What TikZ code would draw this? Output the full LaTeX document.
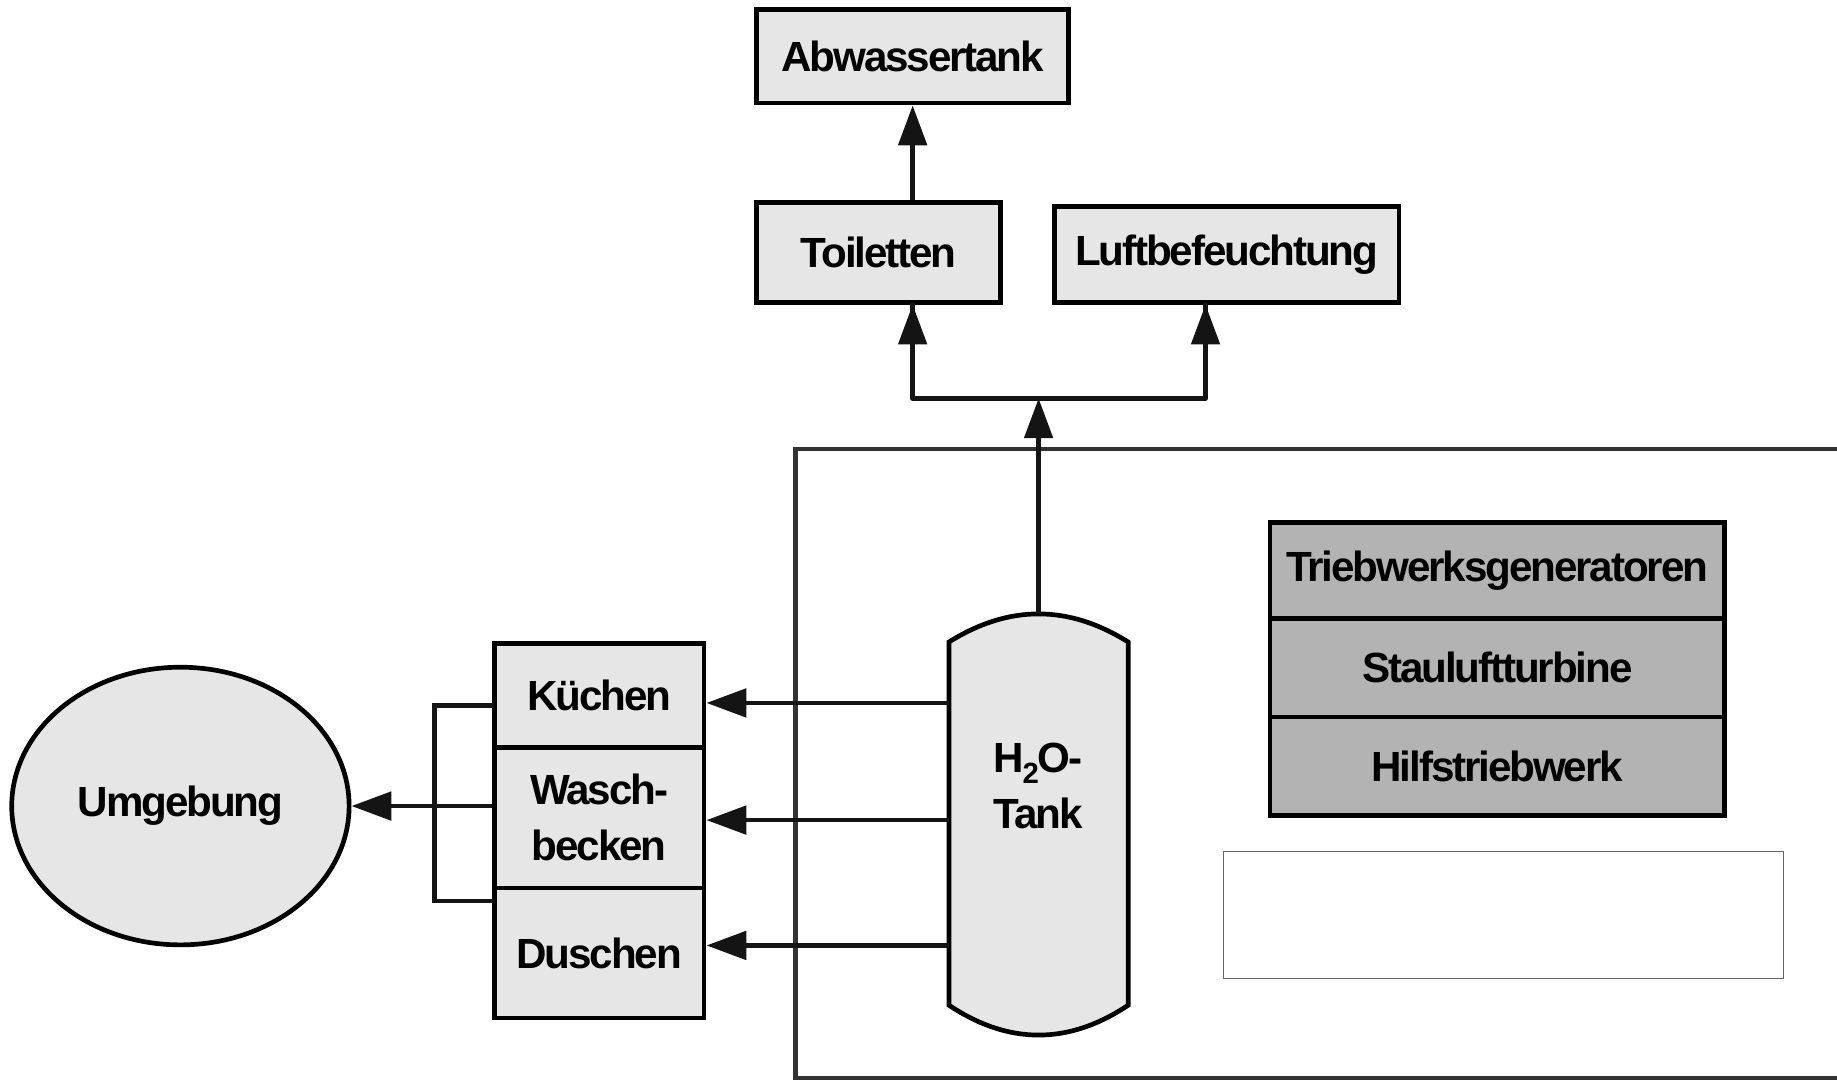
\documentclass[tikz,border=0pt]{standalone}
\usepackage{fontspec}
\setmainfont{Liberation Sans}[LetterSpace=-5]
\usetikzlibrary{arrows.meta,shapes.geometric}
\definecolor{boxgray}{HTML}{E6E6E6}
\definecolor{stackgray}{HTML}{B3B3B3}
\definecolor{framegray}{HTML}{333333}
\definecolor{thingray}{HTML}{666666}
\newcommand{\lblfont}{\fontsize{36}{48}\selectfont\bfseries}
\begin{document}
\begin{tikzpicture}[x=1pt,y=-1pt,
  box/.style={draw=black, line width=4pt, fill=boxgray, rectangle, inner sep=0pt,
    font=\lblfont, align=center},
  stackbox/.style={box, fill=stackgray, minimum width=388pt},
  conn/.style={line width=4pt, draw=black!92},
  arr/.style={conn, -{Triangle[length=34pt,width=24pt]}},
  bracket/.style={line width=4pt, draw=black!92}
]
\useasboundingbox (0,0) rectangle (1568,924);

% large frame
\draw[framegray, line width=3.5pt] (1580,383) -- (679,383) -- (679,920) -- (1580,920);

% top boxes
\node[box, minimum width=266pt, minimum height=80pt] (abw) at (779,48) {Abwassertank};
\node[box, minimum width=208pt, minimum height=85pt] (toil) at (750,215.5) {Toiletten};
\node[box, minimum width=294pt, minimum height=82pt] (luft) at (1047,217) {Luftbefeuchtung};

% power stack
\node[stackbox, minimum height=82pt] (trieb) at (1278,487) {Triebwerksgeneratoren};
\node[stackbox, minimum height=84pt] (stau) at (1278,570) {Stauluftturbine};
\node[stackbox, minimum height=84pt] (hilf) at (1278,654) {Hilfstriebwerk};

% empty rectangle
\node[draw=thingray, line width=1pt, fill=white, minimum width=478pt, minimum height=108pt, inner sep=0pt] (empty) at (1283,781) {};

% consumer boxes
\node[box, minimum width=179pt, minimum height=89pt] (kue) at (511.5,593.5) {K\"uchen};
\node[box, minimum width=179pt, minimum height=120pt] (wasch) at (511.5,698) {Wasch-\\becken};
\node[box, minimum width=179pt, minimum height=111pt] (dusch) at (511.5,813.5) {Duschen};

% environment
\node[ellipse, draw=black, line width=4pt, fill=boxgray, minimum width=288pt, minimum height=237pt, inner sep=0pt, font=\lblfont] (umg) at (154,688) {Umgebung};

% H2O tank
\node[minimum width=153pt, minimum height=360pt, inner sep=0pt] (tank) at (886.5,704) {};
\draw[line width=4pt, fill=boxgray] (810,548) .. controls (861,516) and (912,516) .. (963,548)
  -- (963,858) .. controls (912,892) and (861,892) .. (810,858) -- cycle;
\node[font=\lblfont, align=center, inner sep=0pt] (tanklbl) at (886,671)
  {H\kern-0.04em\raisebox{-9pt}{\fontsize{25}{25}\selectfont 2}\kern-0.04em O-\\Tank};

% coordinates
\coordinate (j) at (886.5,340);
\coordinate (jl) at (779,340);
\coordinate (jr) at (1029,340);
\coordinate (tk) at (810,600);
\coordinate (tw) at (810,700);
\coordinate (td) at (810,807);
\coordinate (b1) at (422,602);
\coordinate (b2) at (371,602);
\coordinate (b3) at (371,769);
\coordinate (b4) at (422,769);

% connectors
\draw[arr] (abw.south |- toil.north) -- (abw.south);
\draw[arr] (tank.north) -- (j);
\draw[conn, line cap=round, line join=round] (jl |- toil.south) -- (jl) -- (jr) -- (jr |- luft.south);
\draw[arr] (jl) -- (jl |- toil.south);
\draw[arr] (jr) -- (jr |- luft.south);
\draw[arr] (tk) -- (tk -| kue.east);
\draw[arr] (tw) -- (tw -| wasch.east);
\draw[arr] (td) -- (td -| dusch.east);
\draw[bracket] (b1) -- (b2) -- (b3) -- (b4);
\draw[arr] (wasch.west |- umg.east) -- (umg.east);
\end{tikzpicture}
\end{document}
